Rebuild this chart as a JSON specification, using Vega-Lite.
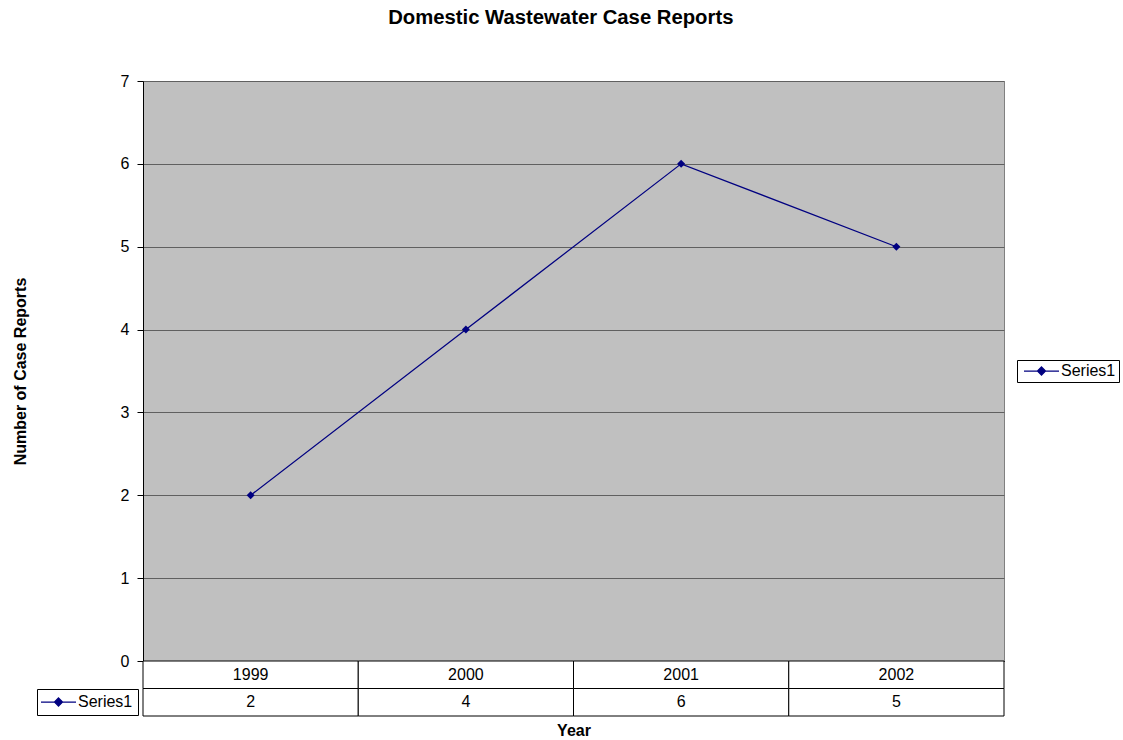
{
  "$schema": "https://vega.github.io/schema/vega-lite/v6.json",
  "background": "white",
  "padding": {"left": 11, "top": 8, "right": 0, "bottom": 0},
  "bounds": "flush",
  "config": {
    "font": "Liberation Sans",
    "view": {"stroke": null},
    "axis": {
      "labelFont": "Liberation Sans",
      "titleFont": "Liberation Sans",
      "labelFontSize": 16,
      "titleFontSize": 16,
      "titleFontWeight": "bold",
      "labelColor": "black",
      "titleColor": "black"
    },
    "legend": {
      "labelFont": "Liberation Sans",
      "labelFontSize": 16,
      "labelColor": "black",
      "strokeColor": "black",
      "fillColor": "white",
      "symbolType": "M-3.5,0L3.5,0M0,-0.8L0.8,0L0,0.8L-0.8,0Z",
      "symbolSize": 100,
      "symbolStrokeWidth": 1.25,
      "symbolFillColor": "#000080",
      "symbolStrokeColor": "#000080",
      "symbolOpacity": 1,
      "orient": "none"
    }
  },
  "title": {
    "text": "Domestic Wastewater Case Reports",
    "font": "Liberation Sans",
    "fontSize": 20.3,
    "fontWeight": "bold",
    "color": "black",
    "anchor": "middle",
    "dx": -5,
    "offset": 44
  },
  "datasets": {
    "cases": [
      {"year": "1999", "reports": 2},
      {"year": "2000", "reports": 4},
      {"year": "2001", "reports": 6},
      {"year": "2002", "reports": 5}
    ]
  },
  "data": {"name": "cases"},
  "spacing": 0,
  "vconcat": [
    {
      "width": 861,
      "height": 580,
      "view": {"fill": "#C0C0C0", "stroke": "#808080", "strokeWidth": 1},
      "encoding": {
        "x": {
          "field": "year",
          "type": "ordinal",
          "scale": {"type": "point", "padding": 0.5},
          "axis": {"title": null, "labels": false, "ticks": false, "grid": false, "domainColor": "black"}
        }
      },
      "layer": [
        {
          "mark": {
            "type": "line",
            "strokeWidth": 1.25,
            "point": {"shape": "diamond", "filled": true, "size": 64}
          },
          "encoding": {
            "y": {
              "field": "reports",
              "type": "quantitative",
              "scale": {"domain": [0, 7], "nice": false},
              "axis": {
                "values": [0, 1, 2, 3, 4, 5, 6, 7],
                "title": "Number of Case Reports",
                "grid": true,
                "gridColor": "#606060",
                "gridOpacity": 1,
                "domainColor": "black",
                "tickColor": "black",
                "tickSize": 6,
                "labelPadding": 8,
                "titlePadding": 92
              }
            },
            "color": {
              "datum": "Series1",
              "scale": {"range": ["#000080"]},
              "legend": {
                "title": null,
                "legendX": 874,
                "legendY": 279,
                "padding": 3,
                "symbolOffset": 13.5,
                "labelOffset": 11.5
              }
            }
          }
        }
      ]
    },
    {
      "width": 861,
      "height": 55,
      "encoding": {
        "x": {
          "field": "year",
          "type": "ordinal",
          "scale": {"type": "band", "paddingInner": 0, "paddingOuter": 0},
          "axis": {"title": "Year", "labels": false, "ticks": false, "domain": false, "titlePadding": 6}
        }
      },
      "layer": [
        {
          "mark": {"type": "rect", "fill": "white", "stroke": "black", "strokeWidth": 1},
          "encoding": {
            "y": {
              "datum": "Year",
              "type": "nominal",
              "scale": {"type": "band", "domain": ["Year", "Series1"], "paddingInner": 0, "paddingOuter": 0},
              "axis": null
            }
          }
        },
        {
          "mark": {"type": "rect", "fill": "white", "stroke": "black", "strokeWidth": 1},
          "encoding": {"y": {"datum": "Series1", "type": "nominal", "axis": null}}
        },
        {
          "mark": {"type": "text", "fontSize": 16, "color": "black", "font": "Liberation Sans"},
          "encoding": {
            "y": {"datum": "Year", "type": "nominal", "axis": null},
            "text": {"field": "year", "type": "nominal"}
          }
        },
        {
          "mark": {"type": "text", "fontSize": 16, "color": "black", "font": "Liberation Sans"},
          "encoding": {
            "y": {"datum": "Series1", "type": "nominal", "axis": null},
            "text": {"field": "reports", "type": "quantitative"}
          }
        },
        {
          "mark": {"type": "line", "opacity": 0},
          "encoding": {
            "y": {"datum": "Series1", "type": "nominal", "axis": null},
            "color": {
              "datum": "Series1",
              "scale": {"range": ["#000080"]},
              "legend": {
                "title": null,
                "legendX": -106,
                "legendY": 28,
                "padding": 5,
                "symbolOffset": 8.5,
                "labelOffset": 11.5,
                "labelExpr": "datum.label + '\u2002'"
              }
            }
          }
        }
      ]
    }
  ],
  "resolve": {
    "scale": {"color": "independent", "x": "independent", "y": "independent"},
    "legend": {"color": "independent"}
  }
}
